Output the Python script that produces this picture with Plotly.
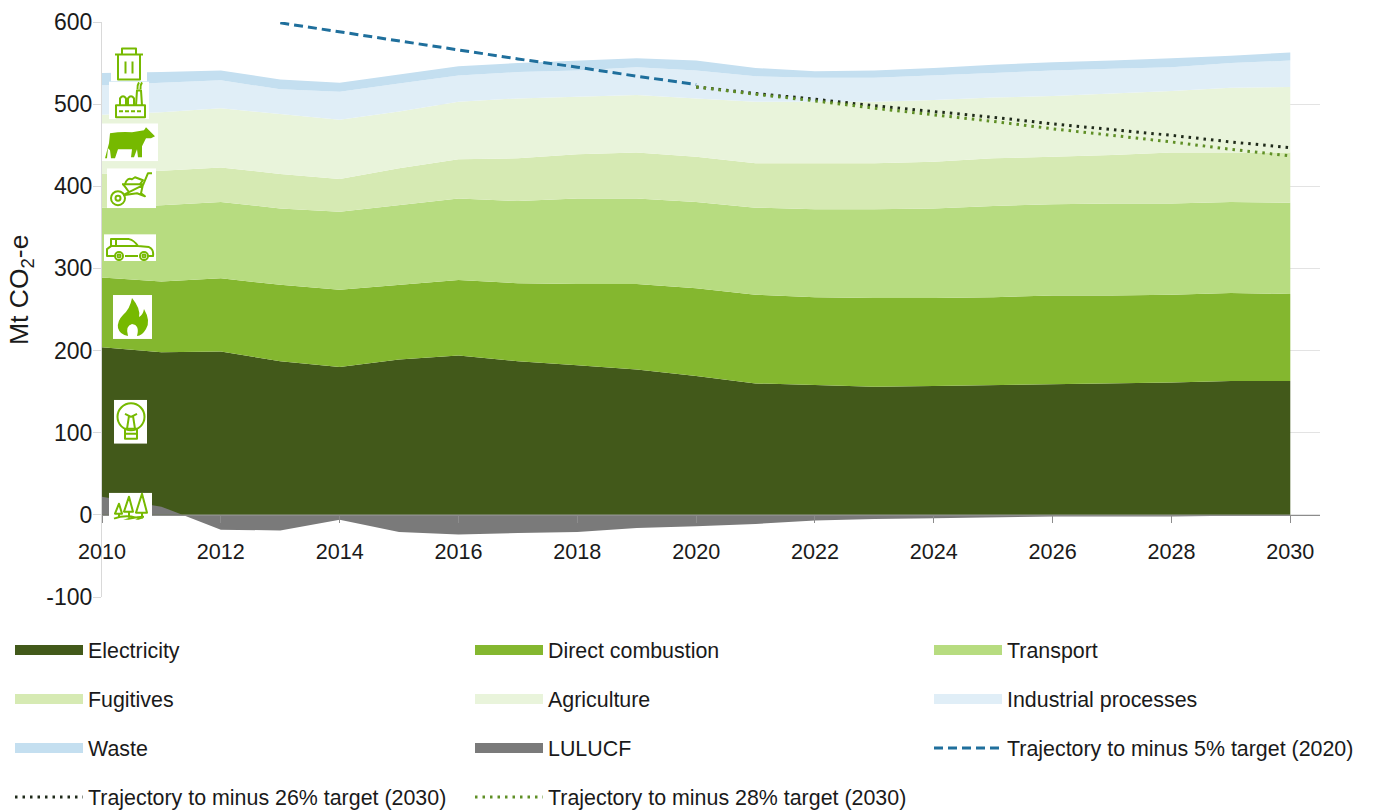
import base64
import plotly.graph_objects as go

years = list(range(2010, 2031))
electricity = [204,198,199,187,180,189,194,187,182,177,169,160,158,156,157,158,159,160,161,163,163]
direct_combustion = [85,86,89,93,94,91,92,95,99,104,107,108,107,108,107,107,108,107,107,107,106]
transport = [85,93,93,93,95,97,99,100,104,104,105,106,107,108,109,111,111,112,111,111,111]
fugitives = [41,42,42,42,40,45,48,52,54,56,55,54,56,56,57,58,58,59,62,60,61]
agriculture = [72,71,72,73,72,69,70,73,70,70,71,75,75,75,75,74,74,75,75,79,80]
industrial = [36,36,34,30,34,34,32,32,32,34,34,31,29,29,30,30,31,30,29,30,32]
waste = [15,13,12,12,11,11,11,11,12,11,12,10,8,9,9,10,10,10,11,9,10]
lulucf = [22,10,-18,-19,-6,-21,-24,-22,-21,-16,-14,-11,-7,-5,-4,-3,-2,-2,-2,-1,-1]
years_5 = list(range(2013, 2021))
target_5 = [599,588,577,566,555,545,534,524]
years_26 = list(range(2020, 2031))
target_26 = [521,513,506,498,491,484,476,469,462,454,447]
target_28 = [521,512,504,495,487,479,470,462,454,445,437]
y_ticks = [-100,0,100,200,300,400,500,600]
y_labels = ["-100","0","100","200","300","400","500","600"]
x_ticks = list(range(2010, 2031, 2))

W, H = 1374, 810
L, R, T, B = 102, 1320, 21.5, 597.5
FONT = "Liberation Sans"
FS = 21.4
TXT = "#1a1a1a"
IC = "#76b900"
COLX = [10, 470, 929]
ROWY = [650, 699, 748, 797]

fig = go.Figure()
stack = [
    ("Electricity", electricity, "#42591a"),
    ("Direct combustion", direct_combustion, "#84b72f"),
    ("Transport", transport, "#b7dc80"),
    ("Fugitives", fugitives, "#d6eab3"),
    ("Agriculture", agriculture, "#e9f4db"),
    ("Industrial processes", industrial, "#e0eef7"),
    ("Waste", waste, "#c4dff0"),
]
for name, vals, col in stack:
    fig.add_trace(go.Scatter(x=years, y=vals, name=name, stackgroup="one", mode="lines",
                             line=dict(width=0, color=col), fillcolor=col, showlegend=False))
fig.add_trace(go.Scatter(x=years, y=lulucf, name="LULUCF", mode="lines", fill="tozeroy",
                         line=dict(width=0, color="#7a7a7a"), fillcolor="#7a7a7a", showlegend=False))
fig.add_trace(go.Scatter(x=years_5, y=target_5, name="Trajectory to minus 5% target (2020)", mode="lines",
                         line=dict(color="#1f6f9c", width=3, dash="9px,5px"), showlegend=False))
fig.add_trace(go.Scatter(x=years_26, y=target_26, name="Trajectory to minus 26% target (2030)", mode="lines",
                         line=dict(color="#1f2a1a", width=3, dash="2.5px,5px"), showlegend=False))
fig.add_trace(go.Scatter(x=years_26, y=target_28, name="Trajectory to minus 28% target (2030)", mode="lines",
                         line=dict(color="#5f8f25", width=3, dash="2.5px,5px"), showlegend=False))

keys = [
    ("Electricity", "#42591a", 12, None), ("Direct combustion", "#84b72f", 12, None), ("Transport", "#b7dc80", 12, None),
    ("Fugitives", "#d6eab3", 12, None), ("Agriculture", "#e9f4db", 12, None), ("Industrial processes", "#e0eef7", 12, None),
    ("Waste", "#c4dff0", 12, None), ("LULUCF", "#7a7a7a", 12, None),
    ("Trajectory to minus 5% target (2020)", "#1f6f9c", 3, "9px,5px"),
    ("Trajectory to minus 26% target (2030)", "#1f2a1a", 3, "2.5px,5px"),
    ("Trajectory to minus 28% target (2030)", "#5f8f25", 3, "2.5px,5px"),
]
legends = {}
for i, (name, col, lw, dash) in enumerate(keys):
    lid = "legend" if i == 0 else f"legend{i + 1}"
    fig.add_trace(go.Scatter(x=[None], y=[None], name=name, mode="lines", legend=lid, hoverinfo="skip",
                             line=dict(color=col, width=lw, dash=dash)))
    legends[lid] = dict(orientation="v", xref="container", yref="container",
                        x=COLX[i % 3] / W, xanchor="left", y=1 - ROWY[i // 3] / H, yanchor="middle",
                        itemwidth=68, bgcolor="rgba(0,0,0,0)", borderwidth=0,
                        font=dict(family=FONT, size=FS, color=TXT), itemclick=False, itemdoubleclick=False)


def px_x(p):
    return (p - L) / (R - L)


def px_y(p):
    return (B - p) / (B - T)


def svg_uri(w, h, body):
    s = (f'<svg xmlns="http://www.w3.org/2000/svg" width="{w}" height="{h}" viewBox="0 0 {w} {h}">'
         f'<rect width="{w}" height="{h}" fill="#ffffff"/>'
         f'<g fill="none" stroke="{IC}" stroke-width="2" stroke-linejoin="round">{body}</g></svg>')
    return "data:image/svg+xml;base64," + base64.b64encode(s.encode()).decode()


icons = [
    (111, 46, 36, 35, '<path d="M4 8H32M11 8V2H25V8M7 8V33H29V8M14.500 15V27M21.500 15V27"/>'),
    (109, 81, 40, 38, '<path d="M7 24H36V36H7ZM10 30H14M16 30H20M22 30H26M28 30H32"/>'
                      '<path d="M11 24V17Q14 13 17 17V24M19 24V17Q22 13 25 17V24M27 24L28 9H32L33 24"/>'
                      '<path d="M28.500 8Q28 4 30 1M31.500 8Q31 4 33 1"/>'),
    (102, 123, 56, 38, f'<path fill="{IC}" stroke="none" d="M8 10Q20 8 30 9L42 7L44 4L47 7L53 13L49 15L44 15L40 23V34H36L35 26L32 34H29L30 26H16L13 35H9L8 27L6 25L5 35H3L7 20Z"/>'),
    (107, 168, 49, 40, '<circle cx="11" cy="30" r="7"/><circle cx="11" cy="30" r="2.500"/>'
                       '<path d="M16 27L36 17L41 5H45M15 16H36L34 25L38 28L30 25L16 27M16 16Q20 21 22 24"/>'
                       '<path d="M18 16Q20 9 25 11L28 9L36 12L33 16"/>'),
    (104, 234, 52, 27, '<path d="M6 22H3V15L7 12V5H25Q30 6 34 12L45 13Q50 15 49 22H44M34 22H21M11 22H6M12 5V12H34M7 12H12"/>'
                       '<circle cx="15" cy="22" r="4"/><circle cx="15" cy="22" r="1.500"/>'
                       '<circle cx="40" cy="22" r="4"/><circle cx="40" cy="22" r="1.500"/>'),
    (113, 295, 39, 44, f'<path fill="{IC}" stroke="none" d="M19 3Q28 14 26 22Q30 20 31 14Q38 26 33 34Q29 41 24 41Q27 30 19 29Q12 31 15 41Q7 40 5 33Q4 26 10 20Q17 14 19 3Z"/>'),
    (114, 400, 33, 44, '<circle cx="17" cy="17" r="13.500"/><path d="M11 14L17 17L23 14M15 16L13 29M19 16L21 29"/>'
                       '<rect x="11" y="29" width="12" height="10"/><path d="M11 34H23"/>'),
    (109, 493, 43, 27, '<path d="M10 11L6 21H13ZM10 21V25M20 4L15 19H24ZM20 19V25M33 1L27 20H38ZM33 20V25"/>'
                       '<path d="M5 26Q16 22 27 25M12 30Q18 25 35 24M25 30Q28 26 34 25"/>'),
]
images = [dict(source=svg_uri(w, h, body), xref="paper", yref="paper", x=px_x(x), y=px_y(y),
               sizex=w / (R - L), sizey=h / (B - T), sizing="stretch", xanchor="left", yanchor="top", layer="above")
          for x, y, w, h, body in icons]

fig.update_layout(
    width=W, height=H, autosize=False,
    margin=dict(l=L, r=W - R, t=T, b=H - B, pad=0, autoexpand=False),
    paper_bgcolor="white", plot_bgcolor="white",
    font=dict(family=FONT, size=FS, color=TXT),
    images=images, showlegend=True,
    xaxis=dict(range=[2010, 2030.5], tickmode="array", tickvals=x_ticks, ticktext=[str(v) for v in x_ticks],
               anchor="free", position=100 / 700, showgrid=False, zeroline=False, showline=True, automargin=False,
               linecolor="#8c8c8c", linewidth=1, ticks="outside", ticklen=7, tickcolor="#8c8c8c",
               ticklabelstandoff=10, tickfont=dict(family=FONT, size=21.6, color=TXT)),
    yaxis=dict(range=[-100, 600], tickmode="array", tickvals=y_ticks, ticktext=y_labels,
               showgrid=True, gridcolor="#e3e3e3", gridwidth=1, automargin=False,
               zeroline=False, showline=True, linecolor="#d9d9d9", linewidth=1, ticks="outside", ticklen=8,
               tickcolor="#d9d9d9", ticklabelstandoff=-4, tickfont=dict(family=FONT, size=23, color=TXT)),
    annotations=[dict(text="Mt CO<sub>2</sub>-e", textangle=-90, xref="paper", yref="paper",
                      x=px_x(21), y=px_y(290), xanchor="center", yanchor="middle", showarrow=False,
                      font=dict(family=FONT, size=26.5, color=TXT))],
    **legends,
)

fig.write_html("out.html", post_script="document.body.style.margin='0';", config=dict(displayModeBar=False))
